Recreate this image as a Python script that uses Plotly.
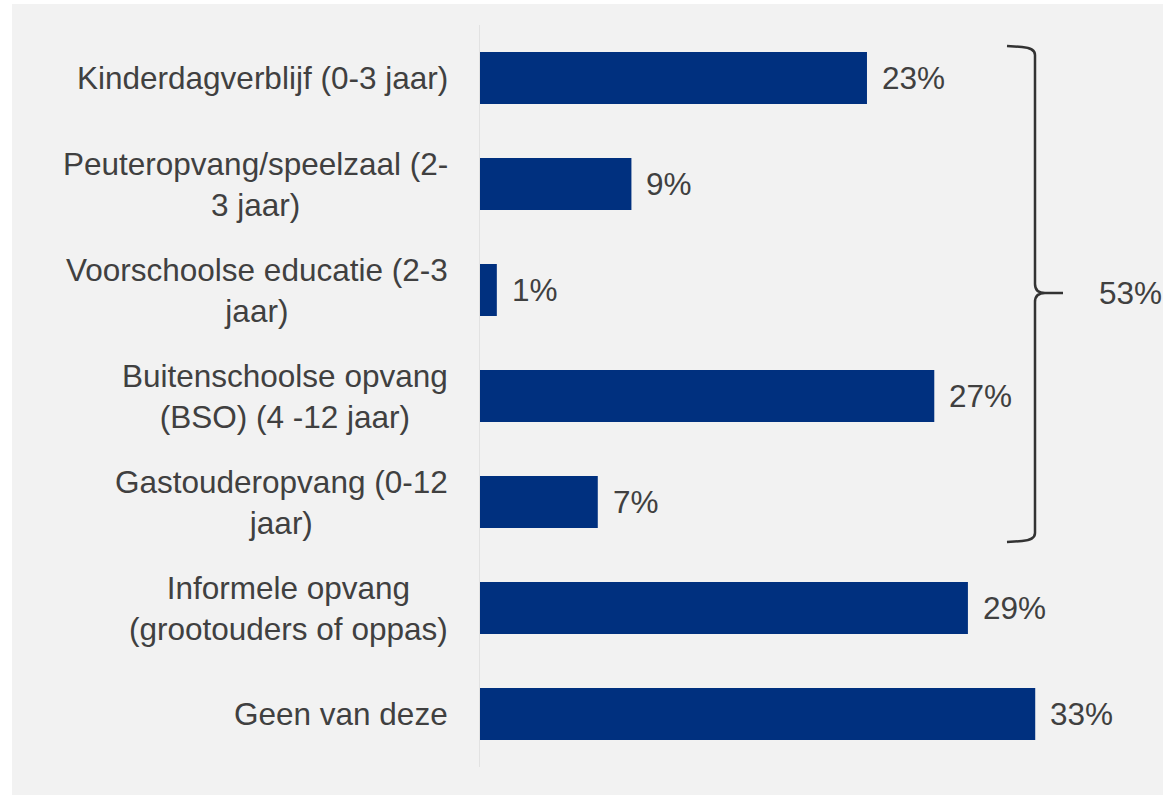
import plotly.graph_objects as go

categories = [
    "Kinderdagverblijf (0-3 jaar)",
    "Peuteropvang/speelzaal (2-<br>3 jaar)",
    "Voorschoolse educatie (2-3<br>jaar)",
    "Buitenschoolse opvang<br>(BSO) (4 -12 jaar)",
    "Gastouderopvang (0-12<br>jaar)",
    "Informele opvang<br>(grootouders of oppas)",
    "Geen van deze",
]
values = [23, 9, 1, 27, 7, 29, 33]
value_labels = ["23%", "9%", "1%", "27%", "7%", "29%", "33%"]
bracket_label = "53%"

W, H = 1163, 798
L, R, T, B = 480, 10, 25, 31
PW = W - L - R
PH = H - T - B

def px(p):
    return (p - L) / PW

def py(p):
    return (H - B - p) / PH

BLUE = "#00307f"
TXT = "#404040"
FONT = "Arial, Liberation Sans, sans-serif"
FS = 31.5

fig = go.Figure()
fig.add_trace(go.Bar(
    y=list(range(len(categories))), x=values, orientation="h",
    marker=dict(color=BLUE, line=dict(width=0)),
    hoverinfo="skip",
))

annotations = []
for i, (c, v, lab) in enumerate(zip(categories, values, value_labels)):
    annotations.append(dict(
        x=px(450), xref="paper", y=i, yref="y", text=c,
        xanchor="right", yanchor="middle", align="center", showarrow=False,
        font=dict(family=FONT, size=FS, color=TXT),
    ))
    annotations.append(dict(
        x=v, xref="x", y=i, yref="y", text=lab,
        xanchor="left", yanchor="middle", xshift=13, showarrow=False,
        font=dict(family=FONT, size=FS, color=TXT),
    ))

annotations.append(dict(
    x=px(1097), xref="paper", y=py(293), yref="paper", text=bracket_label,
    xanchor="left", yanchor="middle", showarrow=False,
    font=dict(family=FONT, size=FS, color=TXT),
))

def P(x, y):
    return f"{px(x):.5f},{py(y):.5f}"

bracket_path = (
    f"M {P(1007, 46)} L {P(1022, 47)} Q {P(1035, 48)} {P(1035, 55)} "
    f"L {P(1035, 284)} Q {P(1035, 293)} {P(1045, 293)} L {P(1063, 293)} "
    f"M {P(1045, 293)} Q {P(1035, 293)} {P(1035, 302)} "
    f"L {P(1035, 533)} Q {P(1035, 540)} {P(1022, 541)} L {P(1007, 542)}"
)

shapes = [
    # white strips around the gray background
    dict(type="rect", xref="paper", yref="paper", x0=px(0), x1=px(12), y0=py(0), y1=py(H),
         fillcolor="white", line=dict(width=0), layer="below"),
    dict(type="rect", xref="paper", yref="paper", x0=px(0), x1=px(W), y0=py(4), y1=py(0),
         fillcolor="white", line=dict(width=0), layer="below"),
    dict(type="rect", xref="paper", yref="paper", x0=px(0), x1=px(W), y0=py(H), y1=py(795),
         fillcolor="white", line=dict(width=0), layer="below"),
    dict(type="path", xref="paper", yref="paper", path=bracket_path,
         line=dict(color="#333333", width=2.5)),
]

fig.update_layout(
    width=W, height=H,
    margin=dict(l=L, r=R, t=T, b=B),
    paper_bgcolor="#f2f2f2", plot_bgcolor="#f2f2f2",
    showlegend=False, bargap=0.51,
    annotations=annotations, shapes=shapes,
    xaxis=dict(range=[0, 40], visible=False, fixedrange=True),
    yaxis=dict(range=[len(categories) - 0.5, -0.5], showticklabels=False,
               showgrid=False, zeroline=False, showline=True,
               linecolor="#e2e2e2", linewidth=1, ticks="", fixedrange=True),
)

fig.write_html(
    "out.html",
    config={"displayModeBar": False},
    post_script="document.body.style.margin='0';document.body.style.overflow='hidden';",
)
